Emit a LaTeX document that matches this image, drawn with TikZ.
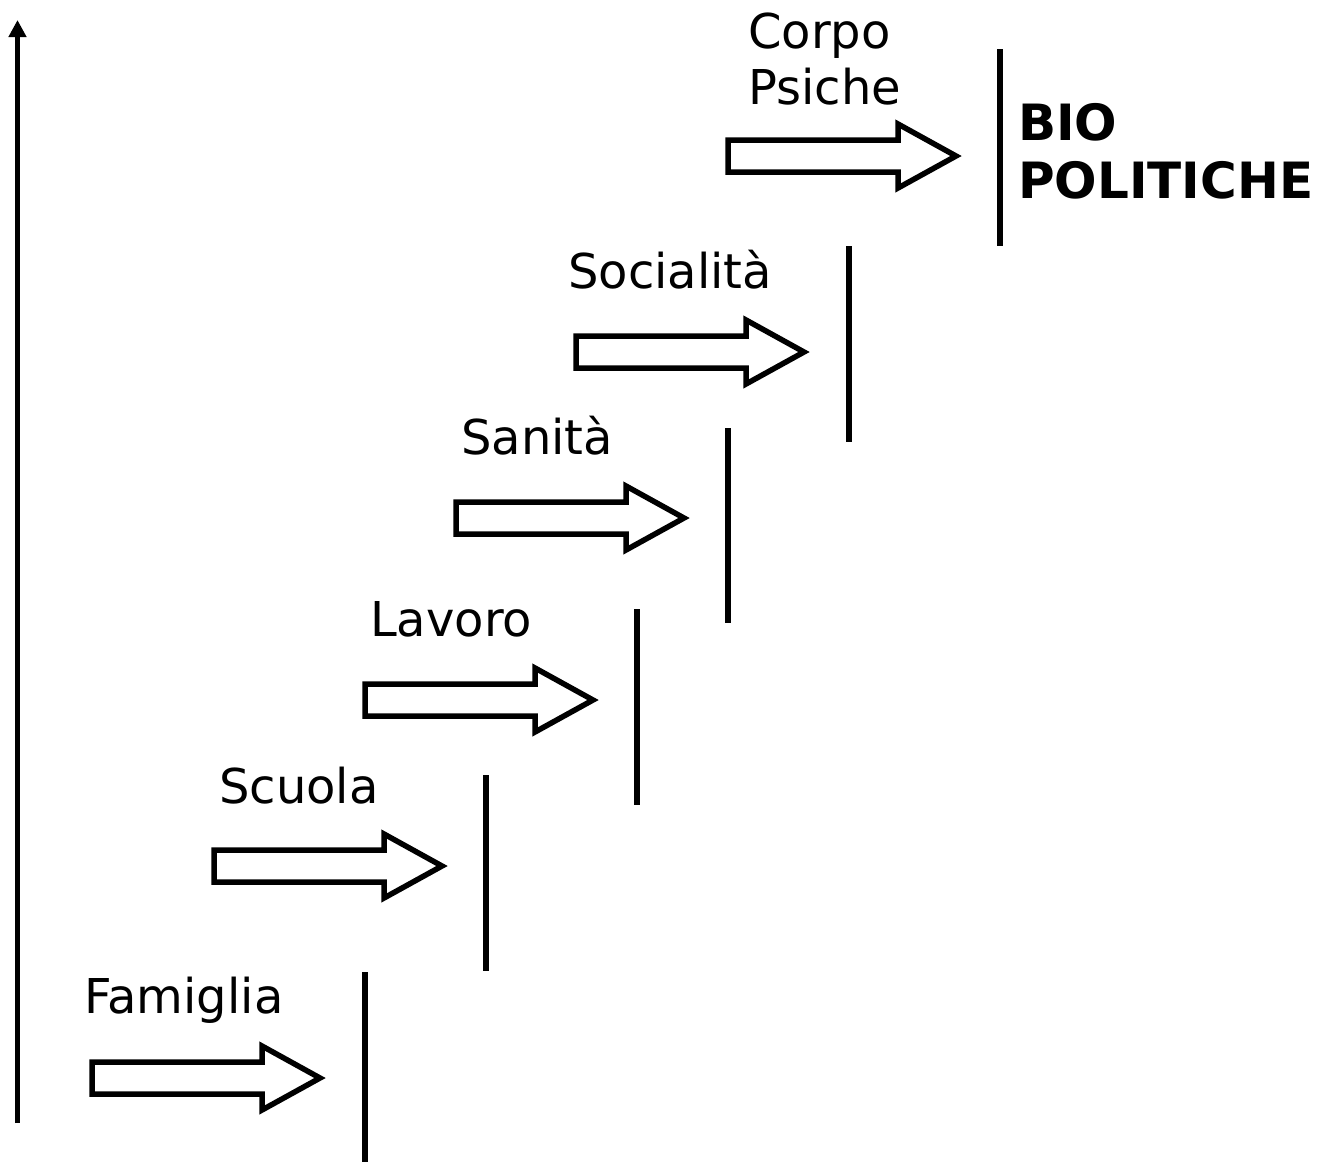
\documentclass[tikz,border=0pt]{standalone}
\usepackage{fontspec}
\setmainfont{DejaVu Sans}
\usetikzlibrary{arrows.meta}

\tikzset{
  lbl/.style={inner sep=0pt, anchor=base west, font=\fontsize{48}{58}\selectfont},
  boldlbl/.style={lbl, font=\fontsize{50}{60}\selectfont\bfseries},
  stagebar/.style={line width=6pt},
  axisline/.style={line width=5.5pt, -{Triangle[width=17pt,length=17pt]}},
  pics/blockarrow/.style={code={
    \draw[line width=5.5pt, fill=white, miter limit=10]
      (0,-16) -- (170,-16) -- (170,-32) -- (228,0) -- (170,32) -- (170,16) -- (0,16) -- cycle;
  }}
}

\begin{document}
\begin{tikzpicture}[x=1pt,y=-1pt]
  \useasboundingbox (0,0) rectangle (1332,1162);

  % vertical axis
  \coordinate (axisbot) at (17.5,1123);
  \coordinate (axistop) at (17.5,20);
  \draw[axisline] (axisbot) -- (axistop);

  % stage labels
  \node[lbl] (famiglia)  at (84,1013) {Famiglia};
  \node[lbl] (scuola)    at (219,803) {Scuola};
  \node[lbl] (lavoro)    at (370,636) {Lavoro};
  \node[lbl] (sanita)    at (461,454) {Sanità};
  \node[lbl] (socialita) at (568,288) {Socialità};
  \node[lbl] (corpo)     at (748,48)  {Corpo};
  \node[lbl] (psiche)    at (748,104) {Psiche};
  \node[boldlbl] (bio)   at (1018,140) {BIO};
  \node[boldlbl] (pol)   at (1018,198) {POLITICHE};

  % block arrows
  \pic at (92,1078)  {blockarrow};
  \pic at (214,866)  {blockarrow};
  \pic at (365,700)  {blockarrow};
  \pic at (456,518)  {blockarrow};
  \pic at (576,352)  {blockarrow};
  \pic at (728,156)  {blockarrow};

  % stage bars
  \coordinate (b1t) at (365,972);  \coordinate (b1b) at (365,1162);
  \coordinate (b2t) at (486,775);  \coordinate (b2b) at (486,971);
  \coordinate (b3t) at (637,609);  \coordinate (b3b) at (637,805);
  \coordinate (b4t) at (728,428);  \coordinate (b4b) at (728,623);
  \coordinate (b5t) at (849,246);  \coordinate (b5b) at (849,442);
  \coordinate (b6t) at (1000,49);  \coordinate (b6b) at (1000,246);
  \foreach \i in {1,...,6}{\draw[stagebar] (b\i t) -- (b\i b);}
\end{tikzpicture}
\end{document}
